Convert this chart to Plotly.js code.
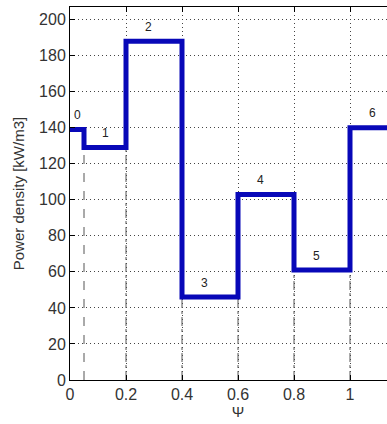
<!DOCTYPE html>
<html>
<head>
<meta charset="utf-8">
<script src="https://cdn.plot.ly/plotly-3.0.1.min.js"></script>
<style>
html,body{margin:0;padding:0;overflow:hidden;background:#fff;}
#chart{width:412px;height:424px;}
</style>
</head>
<body>
<div id="chart"></div>
<script>
// Segment boundaries along psi and the power density of each segment
const segmentEdges = [0, 0.05, 0.2, 0.4, 0.6, 0.8, 1.0, 1.2];
const powerDensity = [139, 129, 188, 46, 103, 61, 140];
const segmentLabels = ['0', '1', '2', '3', '4', '5', '6'];
const xTicks = [0, 0.2, 0.4, 0.6, 0.8, 1.0, 1.2];
const xTickText = ['0', '0.2', '0.4', '0.6', '0.8', '1', '1.2'];
const yTicks = [0, 20, 40, 60, 80, 100, 120, 140, 160, 180, 200];

const stepX = segmentEdges.slice();
const stepY = powerDensity.concat([powerDensity[powerDensity.length - 1]]);

const traces = [];
// dashed boundary markers from 0 up to the lower adjacent step
for (let i = 1; i < segmentEdges.length - 1; i++) {
  const top = Math.min(powerDensity[i - 1], powerDensity[i]);
  traces.push({
    x: [segmentEdges[i], segmentEdges[i]],
    y: [0, top],
    mode: 'lines',
    line: {color: '#555', width: 1, dash: i === 1 ? 'dash' : 'dashdot'},
    hoverinfo: 'skip',
    showlegend: false
  });
}
traces.push({
  x: stepX,
  y: stepY,
  mode: 'lines',
  line: {shape: 'hv', color: '#0808b8', width: 5},
  showlegend: false
});

const annotations = segmentLabels.map((t, i) => {
  const left = segmentEdges[i], right = segmentEdges[i + 1];
  return {
    x: Math.min(left + 0.08, (left + right) / 2),
    y: powerDensity[i] + 8,
    text: t,
    showarrow: false,
    xanchor: 'center',
    yanchor: 'middle',
    font: {family: 'Liberation Sans, Arial, sans-serif', size: 12, color: '#222'}
  };
});

const axisCommon = {
  showline: true, linecolor: '#000', linewidth: 1, mirror: 'ticks',
  ticks: 'inside', ticklen: 5, tickcolor: '#000',
  showgrid: true, gridcolor: '#444', gridwidth: 1, griddash: '1px,3px',
  zeroline: false,
  tickfont: {family: 'Liberation Sans, Arial, sans-serif', size: 16, color: '#333'}
};

const layout = {
  width: 412, height: 424,
  margin: {l: 70, r: 6, t: 7, b: 44},
  paper_bgcolor: '#fff', plot_bgcolor: '#fff',
  xaxis: Object.assign({}, axisCommon, {
    range: [0, 1.2], tickvals: xTicks, ticktext: xTickText,
    title: {text: 'Ψ', font: {family: 'Liberation Sans, Arial, sans-serif', size: 15, color: '#333'}, standoff: 4}
  }),
  yaxis: Object.assign({}, axisCommon, {
    range: [0, 207], tickvals: yTicks,
    title: {text: 'Power density [kW/m3]', font: {family: 'Liberation Sans, Arial, sans-serif', size: 15, color: '#333'}, standoff: 10}
  }),
  annotations: annotations
};

Plotly.newPlot('chart', traces, layout, {displayModeBar: false, staticPlot: true});
</script>
</body>
</html>
